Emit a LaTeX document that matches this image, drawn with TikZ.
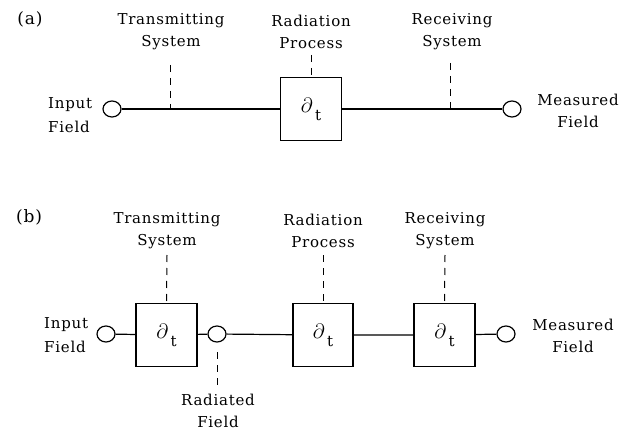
\documentclass[tikz,border=0pt]{standalone}
\usepackage{fontspec}
\setmainfont{DejaVu Serif}[LetterSpace=5]
\usetikzlibrary{shapes.geometric}
\tikzset{
  lbl/.style={font=\fontsize{15}{22}\selectfont, align=center, inner sep=0pt},
  lbll/.style={font=\fontsize{15}{24}\selectfont, align=left, inner sep=0pt, anchor=west},
  port/.style={draw, ellipse, minimum width=18pt, minimum height=16pt, inner sep=0pt, line width=1.2pt},
  blk/.style={draw, rectangle, minimum width=61pt, minimum height=63pt, inner sep=0pt, line width=1.2pt},
  wire/.style={line width=1.2pt},
  dsh/.style={line width=1pt, dash pattern=on 7pt off 6pt},
}
\newcommand{\dt}{{\fontsize{22}{22}\selectfont$\partial$}\raisebox{-8pt}{\fontsize{15}{15}\selectfont\,t}}
\begin{document}
\begin{tikzpicture}[x=1pt,y=-1pt]
\useasboundingbox (0,0) rectangle (631,430);
% ---------- (a)
\node[lbl, font=\fontsize{17}{17}\selectfont] (labA) at (30,19) {(a)};
\node[lbl] (tsA) at (171,32) {Transmitting\\System};
\node[lbl] (rpA) at (311,32) {Radiation\\Process};
\node[lbl] (rsA) at (452,32) {Receiving\\System};
\node[lbll] (inA) at (48,115) {Input\\Field};
\node[port] (ciA) at (112,109) {};
\node[blk] (bxA) at (311,109) {\dt};
\node[port] (coA) at (512,109) {};
\node[lbl] (mfA) at (578,111) {Measured\\Field};
\draw[wire] (ciA) -- (bxA) -- (coA);
\coordinate (tsAd) at (170,65);
\coordinate (rpAd) at (311,55);
\coordinate (rsAd) at (450,63);
\draw[dsh] (tsAd) -- (tsAd |- ciA);
\draw[dsh] (rpAd) -- (bxA.north);
\draw[dsh] (rsAd) -- (rsAd |- coA);
% ---------- (b)
\node[lbl, font=\fontsize{17}{17}\selectfont] (labB) at (29,217) {(b)};
\node[lbl] (tsB) at (167,231) {Transmitting\\System};
\node[lbl] (rpB) at (323,231) {Radiation\\Process};
\node[lbl] (rsB) at (445,231) {Receiving\\System};
\node[lbll] (inB) at (44,335) {Input\\Field};
\node[port] (ciB1) at (106,334) {};
\node[blk] (bx1) at (166.5,335) {\dt};
\node[port] (ciB2) at (217,334) {};
\node[blk, minimum width=60pt] (bx2) at (323,335) {\dt};
\node[blk] (bx3) at (444.5,335) {\dt};
\node[port] (ciB3) at (506,334) {};
\node[lbl] (mfB) at (573,336) {Measured\\Field};
\node[lbl] (rfB) at (218,411) {Radiated\\Field};
\draw[wire] (ciB1) -- (bx1) -- (ciB2) -- (bx2) -- (bx3) -- (ciB3);
\coordinate (tsBd) at (167,255);
\coordinate (rpBd) at (323,255);
\coordinate (rsBd) at (445,255);
\coordinate (rfBd) at (217,352);
\coordinate (rfBe) at (217,386);
\draw[dsh] (tsBd) -- (bx1.north);
\draw[dsh] (rpBd) -- (bx2.north);
\draw[dsh] (rsBd) -- (bx3.north);
\draw[dsh] (rfBd) -- (rfBe);
\end{tikzpicture}
\end{document}
